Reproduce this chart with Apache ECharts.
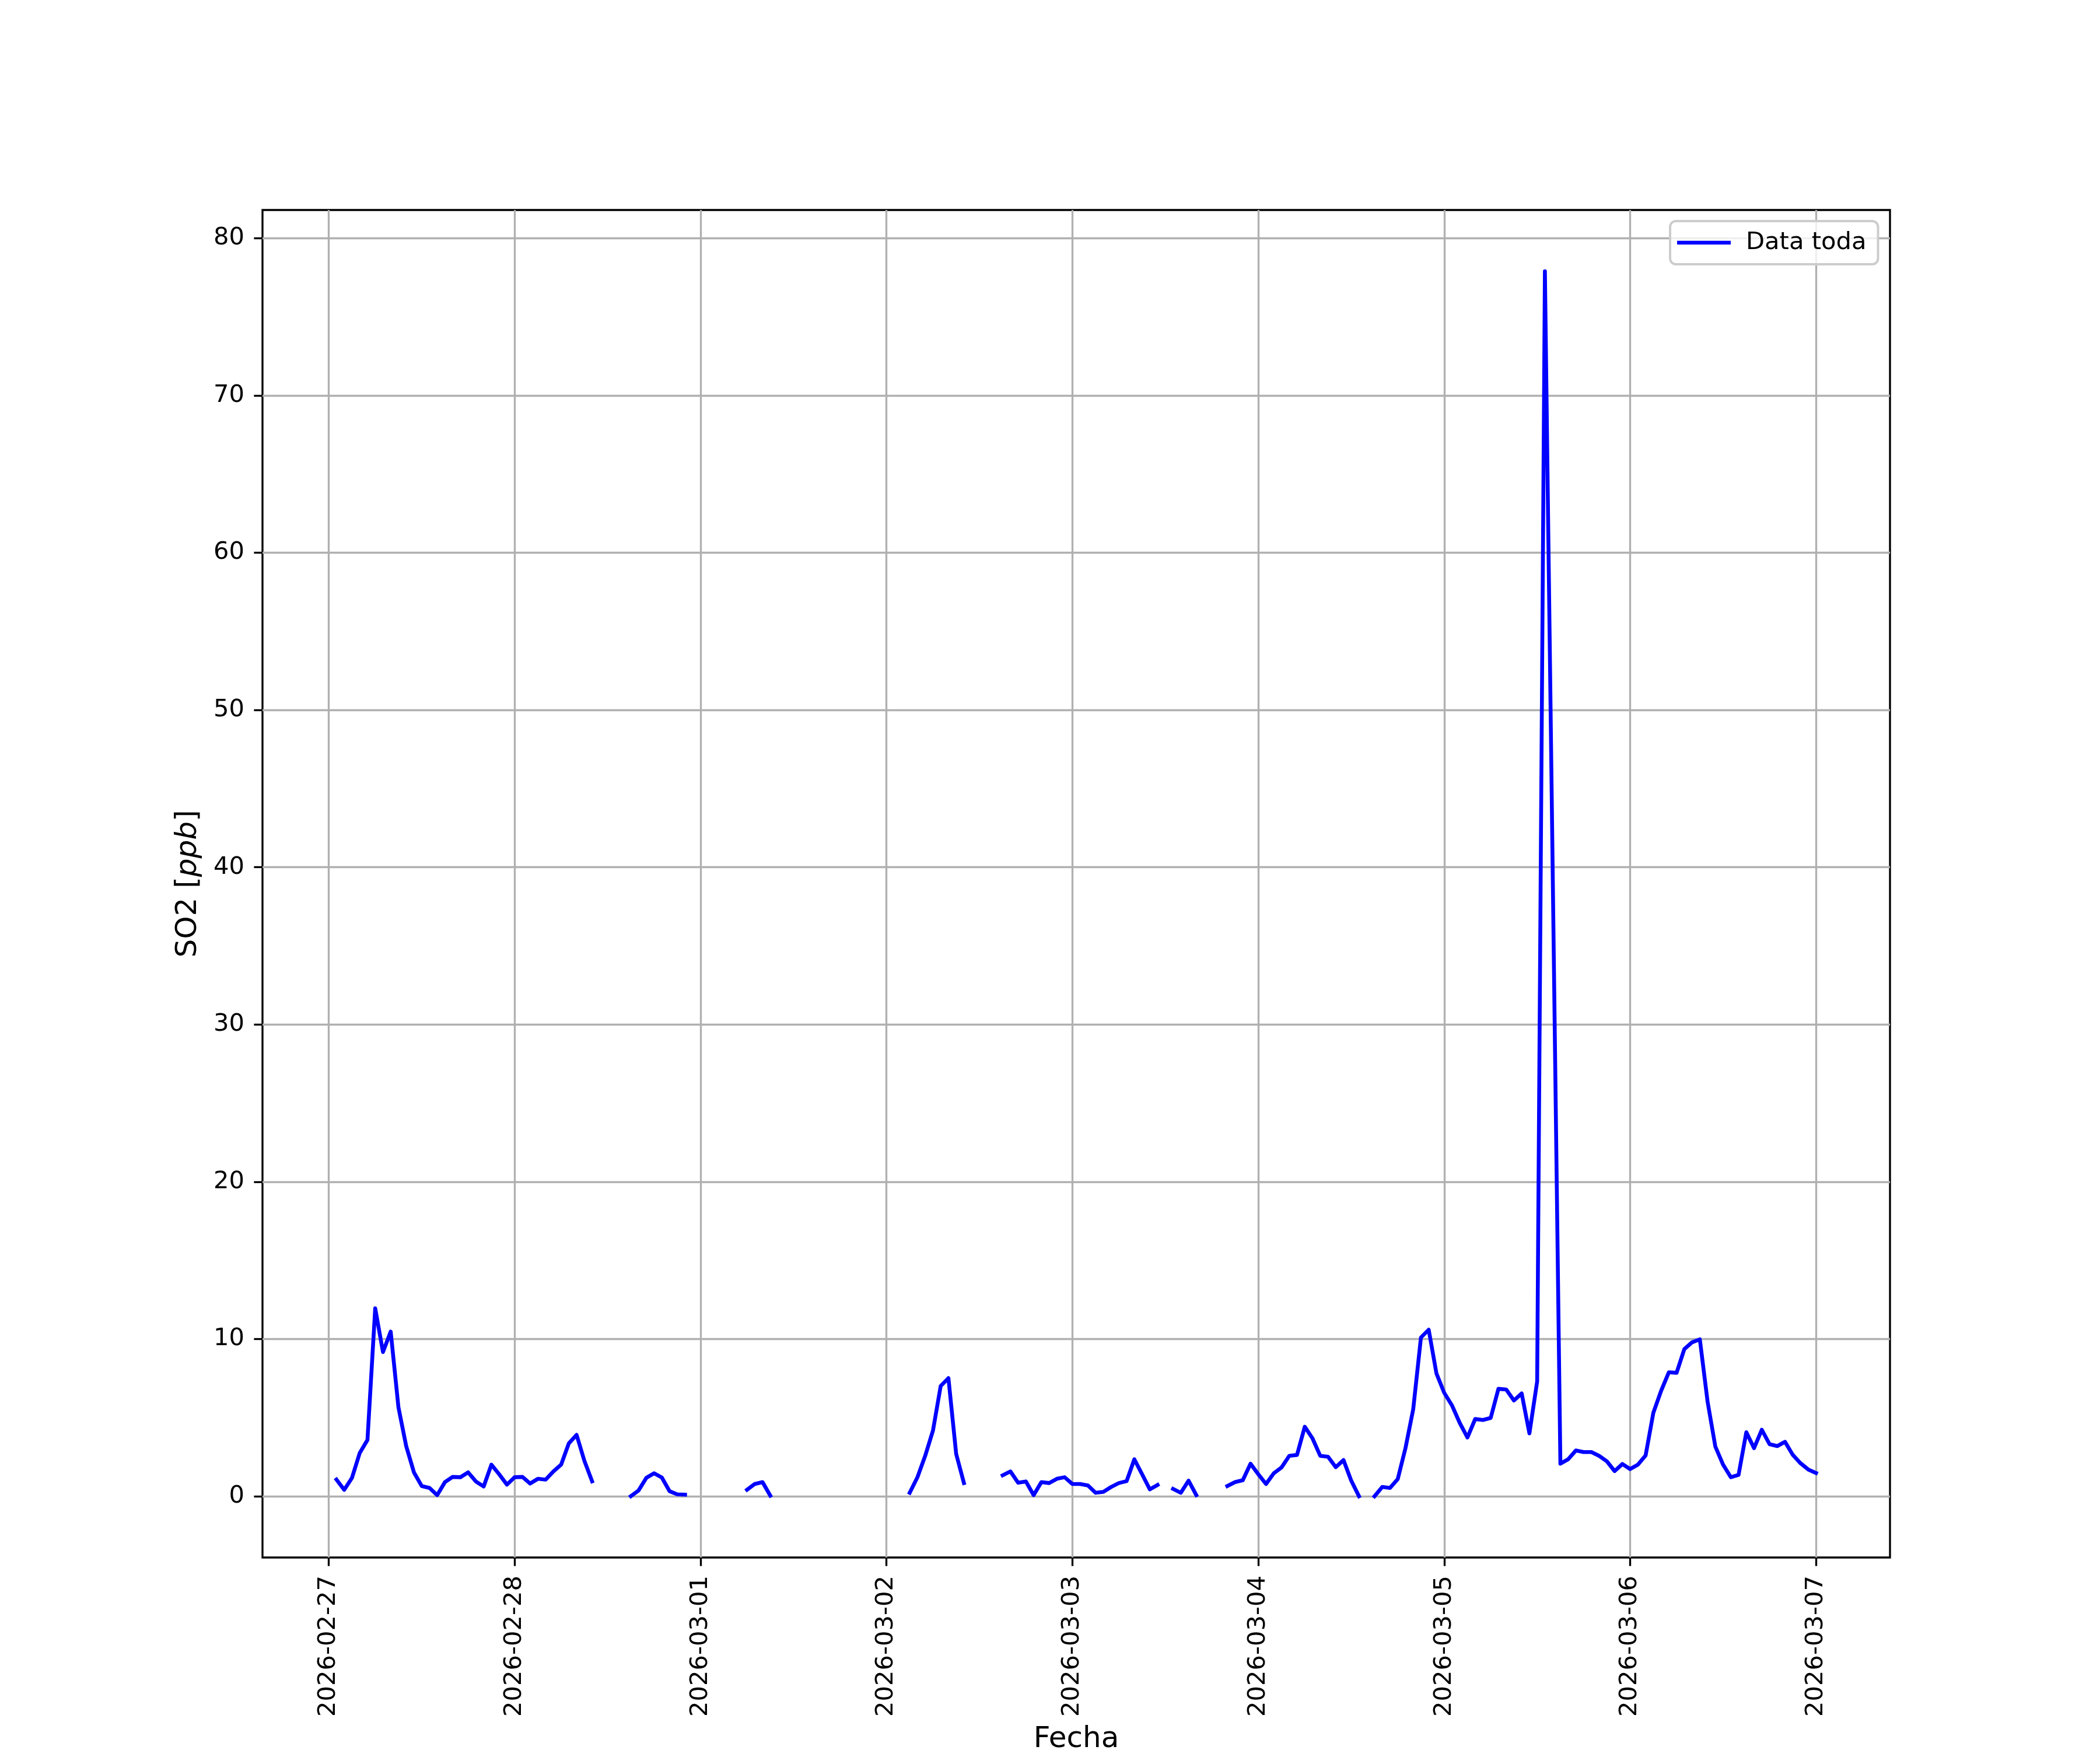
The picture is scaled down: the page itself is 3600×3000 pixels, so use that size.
<!DOCTYPE html>
<html>
<head>
<meta charset="utf-8">
<script src="https://cdn.jsdelivr.net/npm/echarts@6/dist/echarts.min.js"></script>
<style>
  html, body { margin: 0; padding: 0; background: #ffffff; }
  #chart { width: 3600px; height: 3000px; }
</style>
</head>
<body>
<div id="chart"></div>
<script>
// ---- Data (hourly readings, index 0 = 2026-02-27 00:00) ----
const inicio = [2026, 1, 27, 0, 0];   // year, month(0-based), day, hour, minute
const so2 = [
  null,
  1.06, 0.41, 1.17, 2.75, 3.58, 11.95, 9.17, 10.47, 5.65, 3.19,
  1.52, 0.65, 0.53, 0.07, 0.90, 1.23, 1.21, 1.52, 0.94, 0.62,
  2.01, 1.40, 0.74, 1.21, 1.23, 0.81, 1.11, 1.06, 1.58, 2.01,
  3.37, 3.90, 2.26, 0.95,
  null, null, null, null,
  0.00, 0.37, 1.17, 1.46, 1.19, 0.32, 0.12, 0.10,
  null, null, null, null, null, null, null,
  0.41, 0.78, 0.90, 0.04,
  null, null, null, null, null, null, null, null, null, null,
  null, null, null, null, null, null, null,
  0.22, 1.21, 2.57, 4.17, 7.01, 7.51, 2.69, 0.84,
  null, null, null, null,
  1.33, 1.58, 0.86, 0.94, 0.07, 0.90, 0.84, 1.11, 1.21, 0.78,
  0.78, 0.69, 0.22, 0.28, 0.59, 0.84, 0.96, 2.35, 1.40, 0.44, 0.72,
  null,
  0.47, 0.22, 0.99, 0.07,
  null, null, null,
  0.65, 0.90, 1.02, 2.07, 1.40, 0.78, 1.46, 1.83, 2.57, 2.63,
  4.42, 3.68, 2.57, 2.51, 1.85, 2.30, 0.99, 0.00,
  null,
  0.00, 0.59, 0.53, 1.09, 3.06, 5.53, 10.10, 10.59, 7.81, 6.58,
  5.78, 4.67, 3.74, 4.91, 4.85, 4.98, 6.83, 6.79, 6.09, 6.54,
  4.00, 7.30, 77.90,
  null,
  2.07, 2.35, 2.91, 2.81, 2.81, 2.57, 2.22, 1.60, 2.05, 1.73,
  2.01, 2.59, 5.31, 6.70, 7.88, 7.85, 9.36, 9.79, 9.98, 6.02,
  3.16, 2.01, 1.21, 1.36, 4.07, 3.06, 4.23, 3.31, 3.19, 3.46,
  2.63, 2.10, 1.70, 1.48
];
// hours for which the record has no row at all (line stays connected across them)
const horasSinRegistro = [158];
const fechasTicks = ['2026-02-27', '2026-02-28', '2026-03-01', '2026-03-02', '2026-03-03',
                     '2026-03-04', '2026-03-05', '2026-03-06', '2026-03-07'];
const yTicks = [0, 10, 20, 30, 40, 50, 60, 70, 80];
const serieNombre = 'Data toda';

// ---- Build ----
const HORA = 3600 * 1000;
const t0 = new Date(inicio[0], inicio[1], inicio[2], inicio[3], inicio[4]).getTime();
const datos = [];
so2.forEach((v, i) => {
  if (horasSinRegistro.includes(i)) return;
  datos.push([t0 + i * HORA, v]);
});
const validos = datos.filter(d => d[1] !== null);
const tFirst = validos[0][0], tLast = validos[validos.length - 1][0];
const vals = validos.map(d => d[1]);
const vMin = Math.min(...vals), vMax = Math.max(...vals);
const mx = 0.05 * (tLast - tFirst), my = 0.05 * (vMax - vMin);

function parseDay(s) {
  const p = s.split('-').map(Number);
  return new Date(p[0], p[1] - 1, p[2]).getTime();
}
const xTickVals = fechasTicks.map(parseDay);
function fmtDay(v) {
  let best = 0;
  xTickVals.forEach((t, k) => { if (Math.abs(t - v) < Math.abs(xTickVals[best] - v)) best = k; });
  return fechasTicks[best];
}

const FONT = 'DejaVu Sans';
const LW = 6.6;
const chart = echarts.init(document.getElementById('chart'), null, { renderer: 'canvas' });
chart.setOption({
  animation: false,
  backgroundColor: '#ffffff',
  grid: {
    left: 450, right: 360, top: 360, bottom: 330,
    show: true, borderColor: '#000000', borderWidth: 3.33,
    backgroundColor: 'transparent',
    containLabel: false, outerBoundsMode: 'none'
  },
  legend: {
    show: true,
    data: [{ name: serieNombre, icon: 'rect' }],
    left: 2863, top: 379,
    orient: 'vertical',
    padding: [13, 20, 13, 12],
    itemWidth: 92, itemHeight: LW,
    backgroundColor: 'rgba(255,255,255,0.8)',
    borderColor: '#cccccc', borderWidth: 4, borderRadius: 10,
    itemStyle: { color: '#0000ff', borderWidth: 0 },
    textStyle: { fontFamily: FONT, fontSize: 41.67, color: '#000000', lineHeight: 48, padding: [0, 0, 0, 21] }
  },
  xAxis: {
    type: 'value',
    min: tFirst - mx, max: tLast + mx,
    name: 'Fecha', nameLocation: 'middle', nameGap: 287,
    nameTextStyle: { fontFamily: FONT, fontSize: 50, color: '#000000' },
    axisLine: { show: false, onZero: false },
    axisTick: { show: true, customValues: xTickVals, length: 14.6, lineStyle: { color: '#000000', width: 3.33 } },
    axisLabel: {
      customValues: xTickVals, rotate: 90, margin: 31,
      fontFamily: FONT, fontSize: 41.67, color: '#000000',
      formatter: (v) => fmtDay(v)
    },
    splitLine: { show: true, lineStyle: { color: '#b0b0b0', width: 3.33 } }
  },
  yAxis: {
    type: 'value',
    min: vMin - my, max: vMax + my,
    name: '{n|SO2 [}{i|ppb}{n|]}', nameLocation: 'middle', nameGap: 102, nameRotate: 90,
    nameTextStyle: {
      fontFamily: FONT, fontSize: 50, color: '#000000',
      rich: {
        n: { fontFamily: FONT, fontSize: 50, color: '#000000', lineHeight: 50 },
        i: { fontFamily: FONT, fontSize: 50, color: '#000000', fontStyle: 'italic', lineHeight: 50 }
      }
    },
    axisLine: { show: false, onZero: false },
    axisTick: { show: true, customValues: yTicks, length: 14.6, lineStyle: { color: '#000000', width: 3.33 } },
    axisLabel: { customValues: yTicks, margin: 31, fontFamily: FONT, fontSize: 41.67, color: '#000000' },
    splitLine: { show: true, lineStyle: { color: '#b0b0b0', width: 3.33 } }
  },
  series: [{
    name: serieNombre,
    type: 'line',
    data: datos,
    symbol: 'none',
    showSymbol: false,
    connectNulls: false,
    clip: true,
    lineStyle: { color: '#0000ff', width: LW, join: 'round', cap: 'square' },
    itemStyle: { color: '#0000ff' },
    emphasis: { disabled: true }
  }]
});
</script>
</body>
</html>
